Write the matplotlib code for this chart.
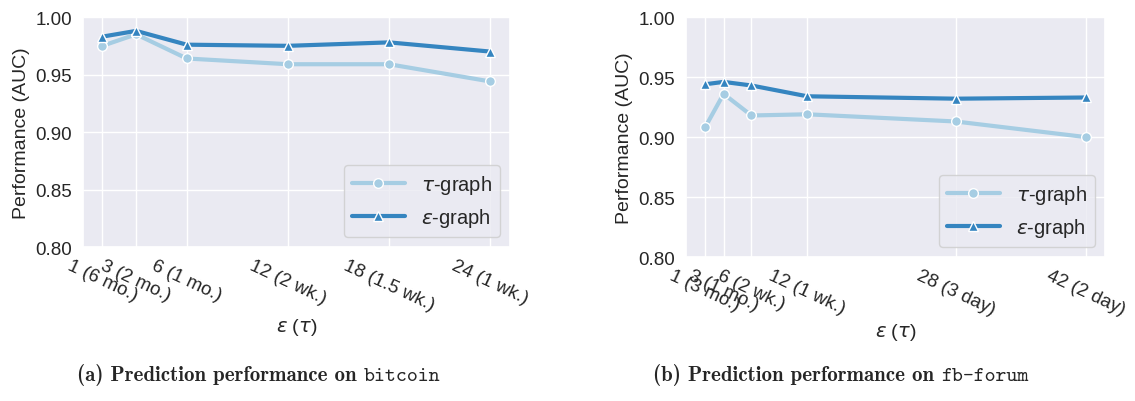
import matplotlib
matplotlib.use('Agg')
import matplotlib.pyplot as plt
import seaborn as sns

# AUC per window setting, bitcoin dataset
btc_eps = [1, 3, 6, 12, 18, 24]
btc_labels = ['1 (6 mo.)', '3 (2 mo.)', '6 (1 mo.)', '12 (2 wk.)', '18 (1.5 wk.)', '24 (1 wk.)']
btc_tau = [0.975, 0.985, 0.964, 0.959, 0.959, 0.944]
btc_epsg = [0.983, 0.988, 0.976, 0.975, 0.978, 0.970]

# AUC per window setting, fb-forum dataset
fb_eps = [1, 3, 6, 12, 28, 42]
fb_labels = ['1 (3 mo.)', '3 (1 mo.)', '6 (2 wk.)', '12 (1 wk.)', '28 (3 day)', '42 (2 day)']
fb_tau = [0.908, 0.936, 0.918, 0.919, 0.913, 0.900]
fb_epsg = [0.944, 0.946, 0.943, 0.934, 0.932, 0.933]

sns.set_theme(style='darkgrid')
plt.rcParams['font.family'] = ['Liberation Sans', 'DejaVu Sans']
light = '#a6cde3'
dark = '#3585c0'

fig = plt.figure(figsize=(11.35, 4.02), dpi=100)
ax1 = fig.add_axes([0.0731, 0.383, 0.376, 0.572])
ax2 = fig.add_axes([0.6044, 0.358, 0.369, 0.597])


def draw(ax, x, labels, tau, epsg):
    ax.plot(x, tau, color=light, lw=3, marker='o', ms=7, mec='white', mew=1,
            label=r'$\tau$-graph')
    ax.plot(x, epsg, color=dark, lw=3, marker='^', ms=7, mec='white', mew=1,
            label=r'$\varepsilon$-graph')
    ax.set_ylim(0.80, 1.00)
    ax.set_yticks([0.80, 0.85, 0.90, 0.95, 1.00])
    ax.set_xticks(x)
    ax.set_xticklabels(labels, rotation=-25, ha='center', fontsize=13.5)
    ax.tick_params(axis='y', labelsize=13.5, pad=2)
    ax.tick_params(axis='x', pad=1)
    ax.set_ylabel('Performance (AUC)', fontsize=14)
    ax.set_xlabel(r'$\varepsilon$ ($\tau$)', fontsize=14, labelpad=2)
    ax.legend(loc='lower right', fontsize=14.5, handlelength=2.6)


draw(ax1, btc_eps, btc_labels, btc_tau, btc_epsg)
draw(ax2, fb_eps, fb_labels, fb_tau, fb_epsg)

# captions: bold serif text followed by a typewriter dataset name
for cx, tag, name in [(0.068, '(a) Prediction performance on ', 'bitcoin'),
                      (0.575, '(b) Prediction performance on ', 'fb-forum')]:
    t = fig.text(cx, 0.052, tag, fontfamily='cmb10', fontsize=15, va='baseline')
    fig.canvas.draw()
    ax1.annotate(name, xy=(1, 0), xycoords=t, va='bottom', ha='left',
                 fontfamily='cmtt10', fontsize=15, annotation_clip=False)

fig.savefig('out.png', dpi=100)
